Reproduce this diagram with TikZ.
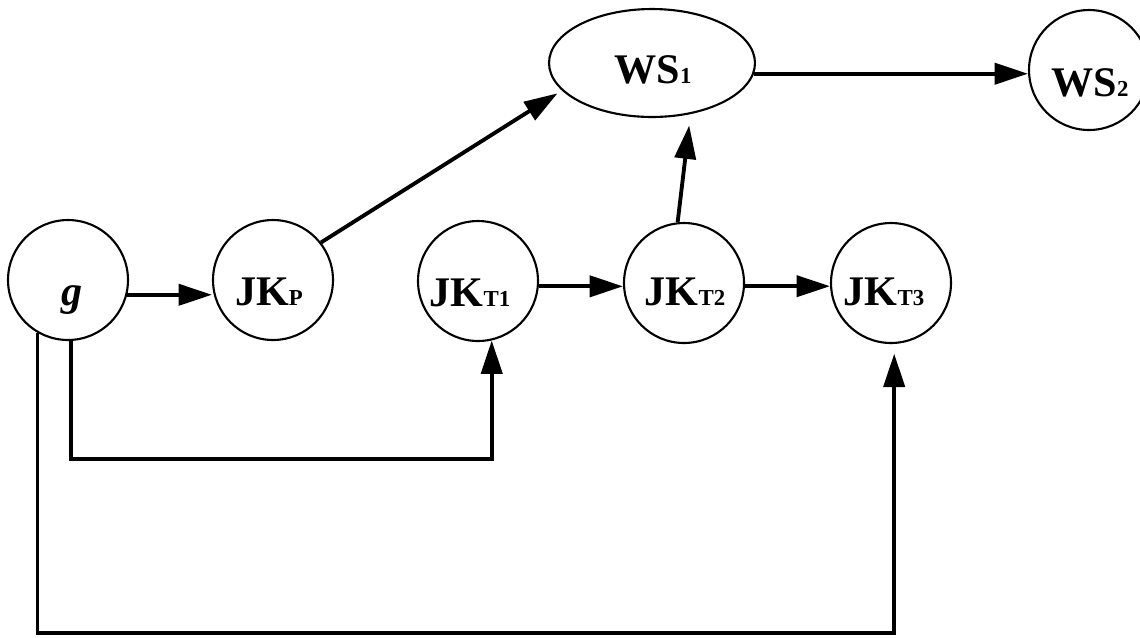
\documentclass[tikz,border=0pt]{standalone}
\usepackage{fontspec}
\setmainfont{Liberation Serif}
\usetikzlibrary{shapes.geometric, arrows.meta, calc}
\newcommand{\subtxt}[1]{{\fontsize{13}{13}\selectfont #1}}
\tikzset{
	state/.style={draw, circle, line width=1.2pt, minimum size=2.4cm, inner sep=0pt},
	wsnode/.style={draw, ellipse, line width=1.2pt, minimum width=4.12cm, minimum height=2.16cm, inner sep=0pt},
	txt/.style={font=\fontsize{24}{26}\selectfont\bfseries, inner sep=0pt},
	arr/.style={-{Triangle[length=19pt,width=12pt]}, line width=2.2pt}
}
\begin{document}
\begin{tikzpicture}[x=0.02cm, y=-0.02cm]
	\useasboundingbox (0,0) rectangle (1140,637);
	% States
	\node[state] (g) at (68,280) {};
	\node[state] (JKP) at (273,280) {};
	\node[state] (JKT1) at (478,281) {};
	\node[state] (JKT2) at (684,283) {};
	\node[state] (JKT3) at (891,283) {};
	\node[wsnode] (WS1) at (652,63) {};
	\node[state] (WS2) at (1089,70) {};
	% Labels
	\node[txt] (gtxt) at (72,300) {\textit{g}};
	\node[txt] (JKPtxt) at (269,292) {JK\subtxt{P}};
	\node[txt] (JKT1txt) at (470,293) {JK\subtxt{T1}};
	\node[txt] (JKT2txt) at (685,292) {JK\subtxt{T2}};
	\node[txt] (JKT3txt) at (884,292) {JK\subtxt{T3}};
	\node[txt] (WS1txt) at (653,70) {WS\subtxt{1}};
	\node[txt] (WS2txt) at (1090,83) {WS\subtxt{2}};
	% Forward chain
	\draw[arr] (g.346) -- (g.346 -| JKP.west);
	\draw[arr, shorten >=3pt] (JKP.38) -- (WS1.197);
	\draw[arr] (JKT1.355) -- (JKT1.355 -| JKT2.west);
	\draw[arr] (JKT2.357) -- (JKT2.357 -| JKT3.west);
	\draw[arr, shorten >=6.5pt] (JKT2.96) -- (WS1.307);
	\draw[arr] (WS1.354) -- (WS1.354 -| WS2.west);
	% Feedback from g
	\draw[arr] (g.273) -- ++(0,118) -| (JKT1.283);
	\draw[arr, shorten >=5.5pt] (g.240) -- ++(0,300) -| (JKT3.273);
\end{tikzpicture}
\end{document}
